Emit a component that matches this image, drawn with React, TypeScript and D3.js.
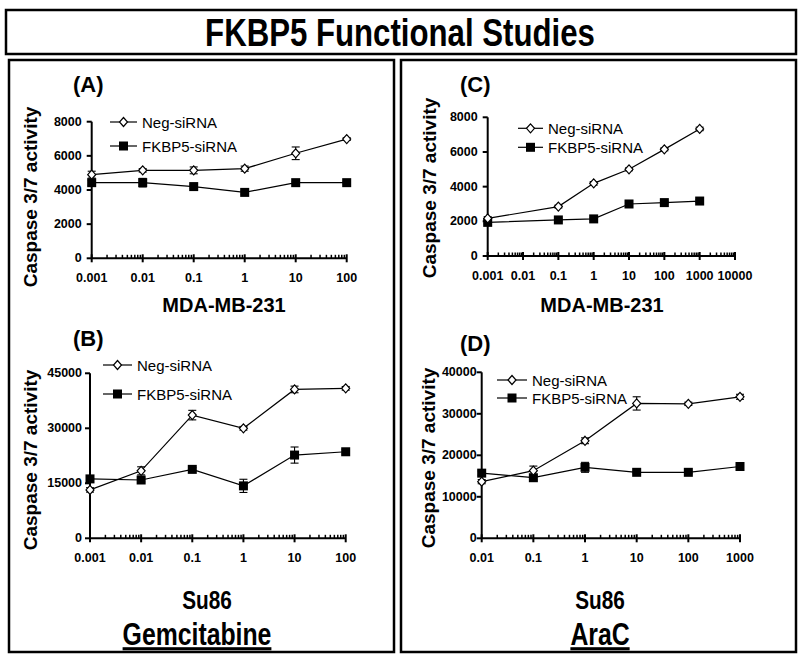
import React from 'react';
import * as d3 from 'd3';

// ---- data ----
const doseA = [0.001, 0.01, 0.1, 1, 10, 100];
const negA = [4900, 5150, 5150, 5250, 6150, 6980];
const negErrA = [200, 100, 200, 150, 370, 80];
const fkA = [4430, 4430, 4200, 3860, 4430, 4430];
const fkErrA = [150, 250, 100, 100, 80, 80];

const doseB = [0.001, 0.01, 0.1, 1, 10, 100];
const negB = [13200, 18400, 33600, 30000, 40600, 40900];
const negErrB = [600, 1100, 1300, 500, 900, 500];
const fkB = [16200, 15900, 18800, 14300, 22700, 23600];
const fkErrB = [500, 500, 500, 1800, 2200, 600];

const doseC = [0.001, 0.1, 1, 10, 100, 1000];
const negC = [2170, 2850, 4190, 5000, 6150, 7330];
const negErrC = [100, 80, 100, 80, 80, 100];
const fkC = [1940, 2080, 2140, 3000, 3080, 3170];
const fkErrC = [80, 60, 60, 80, 60, 80];

const doseD = [0.01, 0.1, 1, 10, 100, 1000];
const negD = [13650, 16300, 23500, 32500, 32400, 34100];
const negErrD = [500, 1100, 700, 1600, 400, 600];
const fkD = [15700, 14600, 17100, 15900, 15900, 17300];
const fkErrD = [500, 500, 1200, 300, 300, 400];

const yTicksA = [0, 2000, 4000, 6000, 8000];
const yTicksB = [0, 15000, 30000, 45000];
const yTicksC = [0, 2000, 4000, 6000, 8000];
const yTicksD = [0, 10000, 20000, 30000, 40000];

const xTicksA = [0.001, 0.01, 0.1, 1, 10, 100];
const xTicksB = [0.001, 0.01, 0.1, 1, 10, 100];
const xTicksC = [0.001, 0.01, 0.1, 1, 10, 100, 1000, 10000];
const xTicksD = [0.01, 0.1, 1, 10, 100, 1000];

const seriesNames = ['Neg-siRNA', 'FKBP5-siRNA'];

const ARIAL = "'Liberation Sans', Arial, sans-serif";

// no narrow face installed: squeeze the regular bold one horizontally
const NarrowText = ({ x, y, size, children, underline }:
  { x: number; y: number; size: number; children: React.ReactNode; underline?: boolean }) => (
  <text
    transform={`translate(${x},${y}) scale(0.8,1)`}
    textAnchor="middle" fontFamily={ARIAL} fontWeight="bold" fontSize={size}
    textDecoration={underline ? 'underline' : undefined}
  >
    {children}
  </text>
);

interface PanelDef {
  tag: string;
  dose: number[];
  neg: number[];
  negErr: number[];
  fk: number[];
  fkErr: number[];
  yTicks: number[];
  xTicks: number[];
  x0: number; x1: number; yBottom: number; yTop: number; tickGap: number;
  tagX: number; tagY: number;
  ylabX: number; ylabY: number;
  legX: number; legY1: number; legY2: number; legLen: number;
  xTitle: string; xTitleX: number; xTitleY: number; xTitleBig: boolean;
}

const panels: PanelDef[] = [
  {
    tag: '(A)', dose: doseA, neg: negA, negErr: negErrA, fk: fkA, fkErr: fkErrA,
    yTicks: yTicksA, xTicks: xTicksA,
    x0: 91.7, x1: 346.7, yBottom: 258.3, yTop: 121.7, tickGap: 10,
    tagX: 73, tagY: 92, ylabX: 30, ylabY: 197,
    legX: 110, legY1: 122, legY2: 146, legLen: 27,
    xTitle: 'MDA-MB-231', xTitleX: 224, xTitleY: 312, xTitleBig: false,
  },
  {
    tag: '(B)', dose: doseB, neg: negB, negErr: negErrB, fk: fkB, fkErr: fkErrB,
    yTicks: yTicksB, xTicks: xTicksB,
    x0: 90, x1: 345.7, yBottom: 538.3, yTop: 373.3, tickGap: 8,
    tagX: 73, tagY: 346, ylabX: 30, ylabY: 460,
    legX: 103, legY1: 365, legY2: 394, legLen: 29,
    xTitle: 'Su86', xTitleX: 207, xTitleY: 609, xTitleBig: true,
  },
  {
    tag: '(C)', dose: doseC, neg: negC, negErr: negErrC, fk: fkC, fkErr: fkErrC,
    yTicks: yTicksC, xTicks: xTicksC,
    x0: 487.7, x1: 735, yBottom: 256, yTop: 117.3, tickGap: 10,
    tagX: 460, tagY: 92, ylabX: 429, ylabY: 188,
    legX: 518, legY1: 128.3, legY2: 147.3, legLen: 25,
    xTitle: 'MDA-MB-231', xTitleX: 602, xTitleY: 312, xTitleBig: false,
  },
  {
    tag: '(D)', dose: doseD, neg: negD, negErr: negErrD, fk: fkD, fkErr: fkErrD,
    yTicks: yTicksD, xTicks: xTicksD,
    x0: 481.7, x1: 740, yBottom: 538.3, yTop: 372.3, tickGap: 5,
    tagX: 460, tagY: 351, ylabX: 428, ylabY: 458,
    legX: 497, legY1: 380, legY2: 398, legLen: 30,
    xTitle: 'Su86', xTitleX: 600, xTitleY: 609, xTitleBig: true,
  },
];

const Diamond = ({ x, y }: { x: number; y: number }) => (
  <path
    d={`M${x},${y - 4.5}L${x + 4},${y}L${x},${y + 4.5}L${x - 4},${y}Z`}
    fill="#fff" stroke="#000" strokeWidth={1.2}
  />
);

const Square = ({ x, y }: { x: number; y: number }) => (
  <rect x={x - 4.5} y={y - 4.5} width={9} height={9} fill="#000" />
);

const Panel = ({ p }: { p: PanelDef }) => {
  const xDom = d3.extent(p.xTicks) as [number, number];
  const x = d3.scaleLog().domain(xDom).range([p.x0, p.x1]);
  const y = d3.scaleLinear()
    .domain([0, d3.max(p.yTicks) as number])
    .range([p.yBottom, p.yTop]);

  // minor ticks between decades
  const minors: number[] = [];
  for (let i = 0; i < p.xTicks.length - 1; i++) {
    for (let m = 2; m <= 9; m++) minors.push(p.xTicks[i] * m);
  }

  const line = d3.line<number>()
    .x((_, i) => x(p.dose[i]))
    .y((d) => y(d));

  const errBars = (vals: number[], errs: number[], key: string) =>
    vals.map((v, i) => {
      const cx = x(p.dose[i]);
      const yHi = y(v + errs[i]);
      const yLo = y(v - errs[i]);
      return (
        <g key={key + i} stroke="#000" strokeWidth={1.1}>
          <line x1={cx} x2={cx} y1={yHi} y2={yLo} />
          <line x1={cx - 4} x2={cx + 4} y1={yHi} y2={yHi} />
          <line x1={cx - 4} x2={cx + 4} y1={yLo} y2={yLo} />
        </g>
      );
    });

  return (
    <g>
      {/* tag */}
      <text x={p.tagX} y={p.tagY} fontFamily={ARIAL} fontWeight="bold" fontSize={22}>
        {p.tag}
      </text>

      {/* y label */}
      <text
        transform={`translate(${p.ylabX},${p.ylabY}) rotate(-90)`}
        textAnchor="middle" dominantBaseline="central"
        fontFamily={ARIAL} fontWeight="bold" fontSize={19}
      >
        Caspase 3/7 activity
      </text>

      {/* y axis */}
      <line x1={p.x0} x2={p.x0} y1={p.yBottom} y2={p.yTop} stroke="#000" strokeWidth={2} />
      {p.yTicks.map((t) => (
        <g key={'yt' + t}>
          <line x1={p.x0 - 5} x2={p.x0} y1={y(t)} y2={y(t)} stroke="#000" strokeWidth={2} />
          <text
            x={p.x0 - p.tickGap} y={y(t)} textAnchor="end" dominantBaseline="central"
            fontFamily={ARIAL} fontWeight="bold" fontSize={12.5}
          >
            {t}
          </text>
        </g>
      ))}

      {/* x axis */}
      <line x1={p.x0} x2={p.x1} y1={p.yBottom} y2={p.yBottom} stroke="#000" strokeWidth={2} />
      {minors.map((m, i) => (
        <line key={'mn' + i} x1={x(m)} x2={x(m)} y1={p.yBottom} y2={p.yBottom - 3.5}
          stroke="#000" strokeWidth={1.5} />
      ))}
      {p.xTicks.map((t) => (
        <g key={'xt' + t}>
          <line x1={x(t)} x2={x(t)} y1={p.yBottom - 4} y2={p.yBottom + 4}
            stroke="#000" strokeWidth={2} />
          <text
            x={x(t)} y={p.yBottom + 24} textAnchor="middle"
            fontFamily={ARIAL} fontWeight="bold" fontSize={12.5}
          >
            {String(t)}
          </text>
        </g>
      ))}

      {/* series */}
      <path d={line(p.neg) || ''} fill="none" stroke="#000" strokeWidth={1.2} />
      <path d={line(p.fk) || ''} fill="none" stroke="#000" strokeWidth={1.2} />
      {errBars(p.neg, p.negErr, 'ne')}
      {errBars(p.fk, p.fkErr, 'fe')}
      {p.fk.map((v, i) => <Square key={'sq' + i} x={x(p.dose[i])} y={y(v)} />)}
      {p.neg.map((v, i) => <Diamond key={'dm' + i} x={x(p.dose[i])} y={y(v)} />)}

      {/* legend */}
      {[p.legY1, p.legY2].map((ly, i) => (
        <g key={'lg' + i}>
          <line x1={p.legX} x2={p.legX + p.legLen} y1={ly} y2={ly} stroke="#000" strokeWidth={1.2} />
          {i === 0
            ? <Diamond x={p.legX + p.legLen / 2} y={ly} />
            : <Square x={p.legX + p.legLen / 2} y={ly} />}
          <text
            x={p.legX + p.legLen + 5} y={ly} dominantBaseline="central"
            fontFamily={ARIAL} fontSize={15}
          >
            {seriesNames[i]}
          </text>
        </g>
      ))}

      {/* x title */}
      {p.xTitleBig
        ? <NarrowText x={p.xTitleX} y={p.xTitleY} size={26}>{p.xTitle}</NarrowText>
        : (
          <text x={p.xTitleX} y={p.xTitleY} textAnchor="middle"
            fontFamily={ARIAL} fontWeight="bold" fontSize={20}>
            {p.xTitle}
          </text>
        )}
    </g>
  );
};

export default function App() {
  return (
    <div style={{ position: 'absolute', left: 0, top: 0 }}>
      <svg width={800} height={658} viewBox="0 0 800 658" style={{ display: 'block', background: '#fff' }}>
        <rect x={0} y={0} width={800} height={658} fill="#fff" />
        {/* title box */}
        <rect x={6} y={10} width={790} height={44} fill="none" stroke="#000" strokeWidth={2.5} />
        <NarrowText x={400} y={46} size={39}>FKBP5 Functional Studies</NarrowText>
        {/* panel boxes */}
        <rect x={9} y={60} width={385} height={592} fill="none" stroke="#000" strokeWidth={2.5} />
        <rect x={401} y={60} width={395} height={592} fill="none" stroke="#000" strokeWidth={2.5} />

        {panels.map((p) => <Panel key={p.tag} p={p} />)}

        {/* drug labels */}
        <NarrowText x={197} y={645} size={31} underline>Gemcitabine</NarrowText>
        <NarrowText x={600} y={645} size={31} underline>AraC</NarrowText>
      </svg>
    </div>
  );
}
